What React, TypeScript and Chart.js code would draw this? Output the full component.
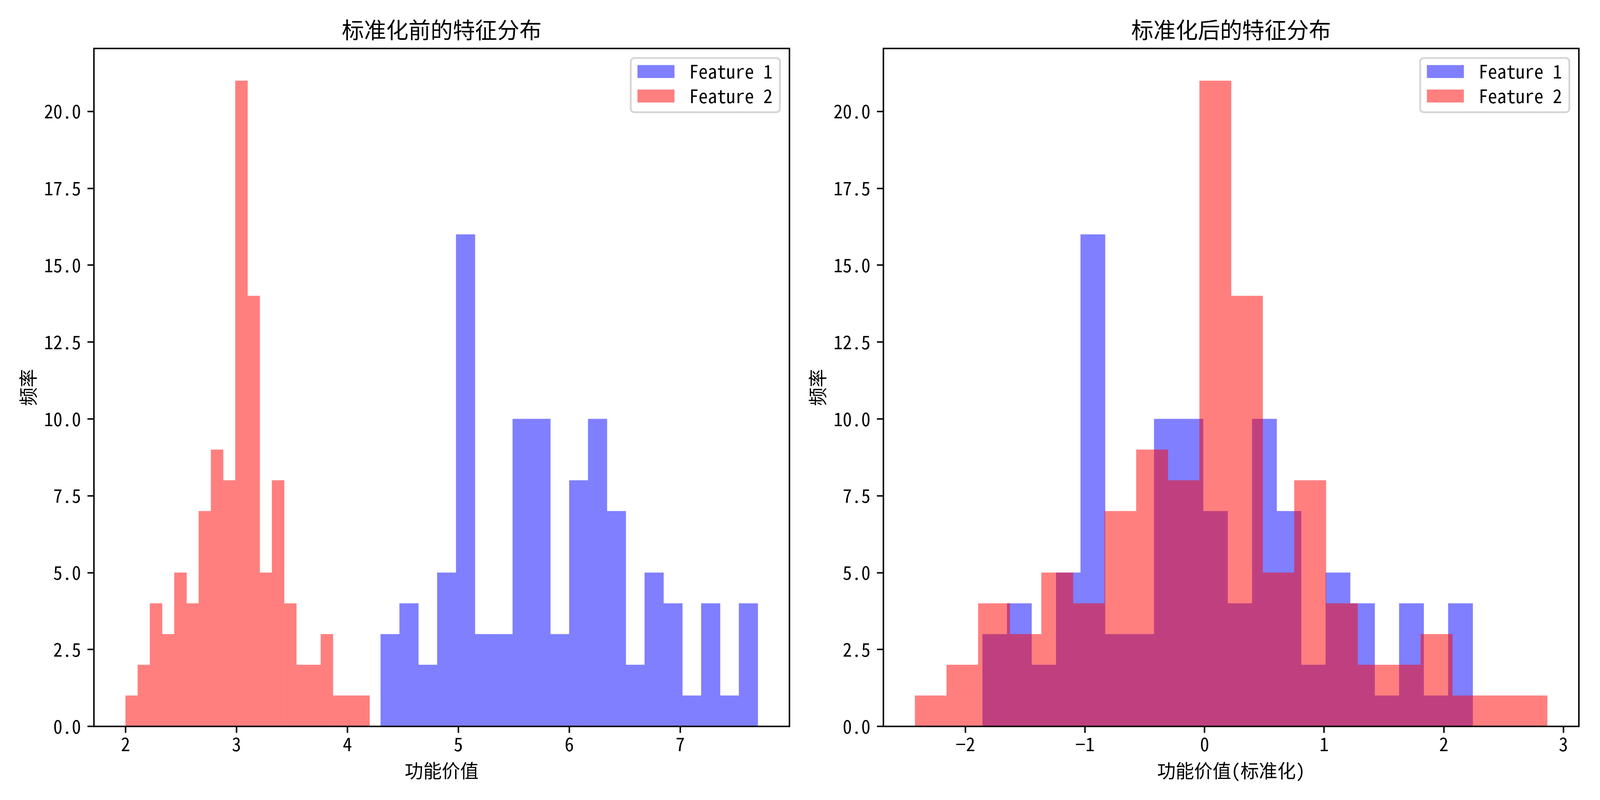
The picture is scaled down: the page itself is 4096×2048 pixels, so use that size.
import React, { useEffect, useRef } from "react";
import { Chart, registerables } from "chart.js";

Chart.register(...registerables);

// ---------------- data ----------------
const SERIES_NAMES = ["Feature 1", "Feature 2"];

// Panel 1: before standardization (bin range [start, end], 20 bins each)
const BEFORE_F1_RANGE = [4.3, 7.7];
const BEFORE_F1_COUNTS = [3, 4, 2, 5, 16, 3, 3, 10, 10, 3, 8, 10, 7, 2, 5, 4, 1, 4, 1, 4];
const BEFORE_F2_RANGE = [2.0, 4.2];
const BEFORE_F2_COUNTS = [1, 2, 4, 3, 5, 4, 7, 9, 8, 21, 14, 5, 8, 4, 2, 2, 3, 1, 1, 1];
const BEFORE_X_TICKS = [2, 3, 4, 5, 6, 7];
const BEFORE_X_TICK_LABELS = ["2", "3", "4", "5", "6", "7"];

// Panel 2: after standardization
const AFTER_F1_RANGE = [-1.856, 2.242];
const AFTER_F1_COUNTS = [3, 4, 2, 5, 16, 3, 3, 10, 10, 7, 4, 10, 7, 2, 5, 4, 1, 4, 1, 4];
const AFTER_F2_RANGE = [-2.421, 2.865];
const AFTER_F2_COUNTS = [1, 2, 4, 3, 5, 4, 7, 9, 8, 21, 14, 5, 8, 4, 2, 2, 3, 1, 1, 1];
const AFTER_X_TICKS = [-2, -1, 0, 1, 2, 3];
const AFTER_X_TICK_LABELS = ["\u22122", "\u22121", "0", "1", "2", "3"];

const Y_TICKS = [0, 2.5, 5, 7.5, 10, 12.5, 15, 17.5, 20];
const Y_TICK_LABELS = ["0.0", "2.5", "5.0", "7.5", "10.0", "12.5", "15.0", "17.5", "20.0"];

const TITLES = ["标准化前的特征分布", "标准化后的特征分布"];
const X_LABELS = ["功能价值", "功能价值(标准化)"];
const Y_LABEL = "频率";

// ---------------- styling / layout ----------------
const SCALE = 0.682;
const PT = (500 / 72) * SCALE; // output px per point
const FONT_PX = 10 * PT;
const TITLE_PX = 12 * PT;
const SPINE_W = 0.8 * PT;
const TICK_LEN = 3.5 * PT;
const TICK_PAD = 3.5 * PT;
const FONT = '"Noto Sans Mono CJK SC", "Noto Sans CJK SC", "Noto Sans", sans-serif';

const CANVAS_H = 2048;
const AREA_TOP = 124.1;
const AREA_BOTTOM = 1859.6;
const TITLE_CENTER_Y = 76.0;
const XTICK_CENTER_Y = 1905;
const XLABEL_CENTER_Y = 1973;
const YLABEL_OFFSET = 168.2;

const BLUE = "#0000FF";
const RED = "#FF0000";
const BAR_ALPHA = 0.5;

type Panel = {
  title: string;
  xLabel: string;
  f1Range: number[];
  f1Counts: number[];
  f2Range: number[];
  f2Counts: number[];
  xTicks: number[];
  xTickLabels: string[];
  canvasLeft: number;
  canvasW: number;
  areaLeft: number;
  areaRight: number;
};

const PANELS: Panel[] = [
  {
    title: TITLES[0],
    xLabel: X_LABELS[0],
    f1Range: BEFORE_F1_RANGE,
    f1Counts: BEFORE_F1_COUNTS,
    f2Range: BEFORE_F2_RANGE,
    f2Counts: BEFORE_F2_COUNTS,
    xTicks: BEFORE_X_TICKS,
    xTickLabels: BEFORE_X_TICK_LABELS,
    canvasLeft: 0,
    canvasW: 2044,
    areaLeft: 240.5,
    areaRight: 2021.0,
  },
  {
    title: TITLES[1],
    xLabel: X_LABELS[1],
    f1Range: AFTER_F1_RANGE,
    f1Counts: AFTER_F1_COUNTS,
    f2Range: AFTER_F2_RANGE,
    f2Counts: AFTER_F2_COUNTS,
    xTicks: AFTER_X_TICKS,
    xTickLabels: AFTER_X_TICK_LABELS,
    canvasLeft: 2044,
    canvasW: 2052,
    areaLeft: 217.5,
    areaRight: 1997.9,
  },
];

function binPoints(range: number[], counts: number[]) {
  const w = (range[1] - range[0]) / counts.length;
  return counts.map((c, i) => ({ x: range[0] + w * (i + 0.5), y: c }));
}

// Draw each histogram opaquely into its own layer, then blend the layer with
// alpha 0.5 (like matplotlib's alpha), so adjacent bars show no seams.
const layerPlugin = {
  id: "alphaLayer",
  beforeDatasetDraw(chart: any, args: any) {
    const meta = args.meta;
    const ds = chart.data.datasets[args.index];
    if (!chart.$layer) chart.$layer = document.createElement("canvas");
    const off: HTMLCanvasElement = chart.$layer;
    off.width = chart.canvas.width;
    off.height = chart.canvas.height;
    const octx = off.getContext("2d") as CanvasRenderingContext2D;
    octx.clearRect(0, 0, off.width, off.height);
    const a = chart.chartArea;
    octx.save();
    octx.beginPath();
    octx.rect(a.left, a.top, a.right - a.left, a.bottom - a.top);
    octx.clip();
    meta.data.forEach((el: any) => el.draw(octx));
    octx.restore();
    const ctx = chart.ctx;
    ctx.save();
    ctx.globalAlpha = ds.layerAlpha;
    ctx.drawImage(off, 0, 0);
    ctx.restore();
    return false;
  },
};

const framePlugin = {
  id: "frame",
  afterDatasetsDraw(chart: any) {
    const { ctx, chartArea: a } = chart;
    ctx.save();
    ctx.strokeStyle = "#000";
    ctx.lineWidth = SPINE_W;
    ctx.strokeRect(a.left, a.top, a.right - a.left, a.bottom - a.top);
    ctx.restore();
  },
};

const legendPlugin = {
  id: "mplLegend",
  afterDraw(chart: any) {
    const { ctx, chartArea: a } = chart;
    const em = FONT_PX;
    ctx.save();
    ctx.font = `${FONT_PX}px ${FONT}`;
    const labels: string[] = chart.data.datasets.map((d: any) => d.label);
    const textW = Math.max(...labels.map((l) => ctx.measureText(l).width));
    const bw = 17.3 + 2.8 * em + textW + 0.4 * em;
    const bh = 138.9;
    const bx = a.right - 24.4 - bw;
    const by = a.top + 24.4;
    ctx.beginPath();
    ctx.roundRect(bx, by, bw, bh, 0.2 * em);
    ctx.fillStyle = "rgba(255,255,255,0.8)";
    ctx.fill();
    ctx.lineWidth = 1.0 * PT;
    ctx.strokeStyle = "rgba(204,204,204,0.8)";
    ctx.stroke();
    const rowCenters = [34.6, 97.3];
    chart.data.datasets.forEach((ds: any, i: number) => {
      const cy = by + rowCenters[i];
      ctx.save();
      ctx.globalAlpha = ds.layerAlpha;
      ctx.fillStyle = ds.backgroundColor;
      ctx.fillRect(bx + 17.3, cy - 0.35 * em, 2.0 * em, 0.7 * em);
      ctx.restore();
      ctx.fillStyle = "#000";
      ctx.textAlign = "left";
      ctx.textBaseline = "middle";
      ctx.fillText(ds.label, bx + 17.3 + 2.8 * em, cy);
    });
    ctx.restore();
  },
};

function makeConfig(p: Panel): any {
  const lo = Math.min(p.f1Range[0], p.f2Range[0]);
  const hi = Math.max(p.f1Range[1], p.f2Range[1]);
  const margin = (hi - lo) * 0.05;
  const xMin = lo - margin;
  const xMax = hi + margin;
  const yMax = Math.max(...p.f1Counts, ...p.f2Counts) * 1.05;
  const tickFont = { family: FONT, size: FONT_PX, lineHeight: 1.2 };
  const setXTicks = (scale: any) => {
    scale.ticks = p.xTicks.map((v) => ({ value: v }));
  };
  const gridOpts = {
    display: true,
    offset: false,
    drawOnChartArea: false,
    drawTicks: true,
    tickLength: TICK_LEN,
    tickWidth: SPINE_W,
    tickColor: "#000",
    color: "#000",
  };
  return {
    type: "bar",
    data: {
      datasets: [
        {
          label: SERIES_NAMES[0],
          data: binPoints(p.f1Range, p.f1Counts),
          xAxisID: "x2",
          yAxisID: "y",
          backgroundColor: BLUE,
          layerAlpha: BAR_ALPHA,
          order: 2,
        },
        {
          label: SERIES_NAMES[1],
          data: binPoints(p.f2Range, p.f2Counts),
          xAxisID: "x",
          yAxisID: "y",
          backgroundColor: RED,
          layerAlpha: BAR_ALPHA,
          order: 1,
        },
      ],
    },
    options: {
      responsive: false,
      animation: false,
      devicePixelRatio: 1,
      events: [],
      layout: {
        autoPadding: false,
        padding: { left: 0, top: 0, right: p.canvasW - p.areaRight, bottom: 0 },
      },
      datasets: {
        bar: {
          barPercentage: 1,
          categoryPercentage: 1,
          borderWidth: 0,
          grouped: false,
        },
      },
      plugins: {
        legend: { display: false },
        tooltip: { enabled: false },
        title: {
          display: true,
          text: p.title,
          fullSize: false,
          color: "#000",
          font: { family: FONT, size: TITLE_PX, weight: "normal", lineHeight: 1.2 },
          padding: {
            top: TITLE_CENTER_Y - 0.6 * TITLE_PX,
            bottom: AREA_TOP - (TITLE_CENTER_Y - 0.6 * TITLE_PX) - 1.2 * TITLE_PX,
          },
        },
      },
      scales: {
        x: {
          type: "linear",
          position: "bottom",
          min: xMin,
          max: xMax,
          bounds: "data",
          offset: false,
          afterBuildTicks: setXTicks,
          afterFit: (s: any) => {
            s.height = CANVAS_H - AREA_BOTTOM;
          },
          grid: gridOpts,
          border: { display: false },
          ticks: {
            autoSkip: false,
            maxRotation: 0,
            minRotation: 0,
            color: "#000",
            font: tickFont,
            padding: XTICK_CENTER_Y - AREA_BOTTOM - TICK_LEN - 0.6 * FONT_PX,
            callback: (_v: any, i: number) => p.xTickLabels[i],
          },
          title: {
            display: true,
            text: p.xLabel,
            color: "#000",
            font: tickFont,
            padding: { top: 0, bottom: CANVAS_H - XLABEL_CENTER_Y - 0.6 * FONT_PX },
          },
        },
        x2: {
          type: "linear",
          position: "bottom",
          display: false,
          min: xMin,
          max: xMax,
          bounds: "data",
          offset: false,
          grid: { offset: false },
          afterBuildTicks: setXTicks,
        },
        y: {
          type: "linear",
          position: "left",
          min: 0,
          max: yMax,
          bounds: "data",
          afterBuildTicks: (scale: any) => {
            scale.ticks = Y_TICKS.map((v) => ({ value: v }));
          },
          afterFit: (s: any) => {
            s.width = p.areaLeft;
          },
          grid: gridOpts,
          border: { display: false },
          ticks: {
            autoSkip: false,
            color: "#000",
            font: tickFont,
            padding: TICK_PAD,
            callback: (_v: any, i: number) => Y_TICK_LABELS[i],
          },
          title: {
            display: true,
            text: Y_LABEL,
            color: "#000",
            font: tickFont,
            padding: { top: p.areaLeft - YLABEL_OFFSET - 0.6 * FONT_PX, bottom: 0 },
          },
        },
      },
    },
    plugins: [layerPlugin, framePlugin, legendPlugin],
  };
}

export default function App() {
  const c1 = useRef<HTMLCanvasElement>(null);
  const c2 = useRef<HTMLCanvasElement>(null);

  useEffect(() => {
    const charts = [
      new Chart(c1.current as HTMLCanvasElement, makeConfig(PANELS[0])),
      new Chart(c2.current as HTMLCanvasElement, makeConfig(PANELS[1])),
    ];
    return () => charts.forEach((c) => c.destroy());
  }, []);

  return (
    <div
      style={{
        position: "fixed",
        left: 0,
        top: 0,
        width: 4096,
        height: CANVAS_H,
        background: "#fff",
        overflow: "hidden",
      }}
    >
      {PANELS.map((p, i) => (
        <canvas
          key={i}
          ref={i === 0 ? c1 : c2}
          width={p.canvasW}
          height={CANVAS_H}
          style={{ position: "absolute", left: p.canvasLeft, top: 0, width: p.canvasW, height: CANVAS_H }}
        />
      ))}
    </div>
  );
}
